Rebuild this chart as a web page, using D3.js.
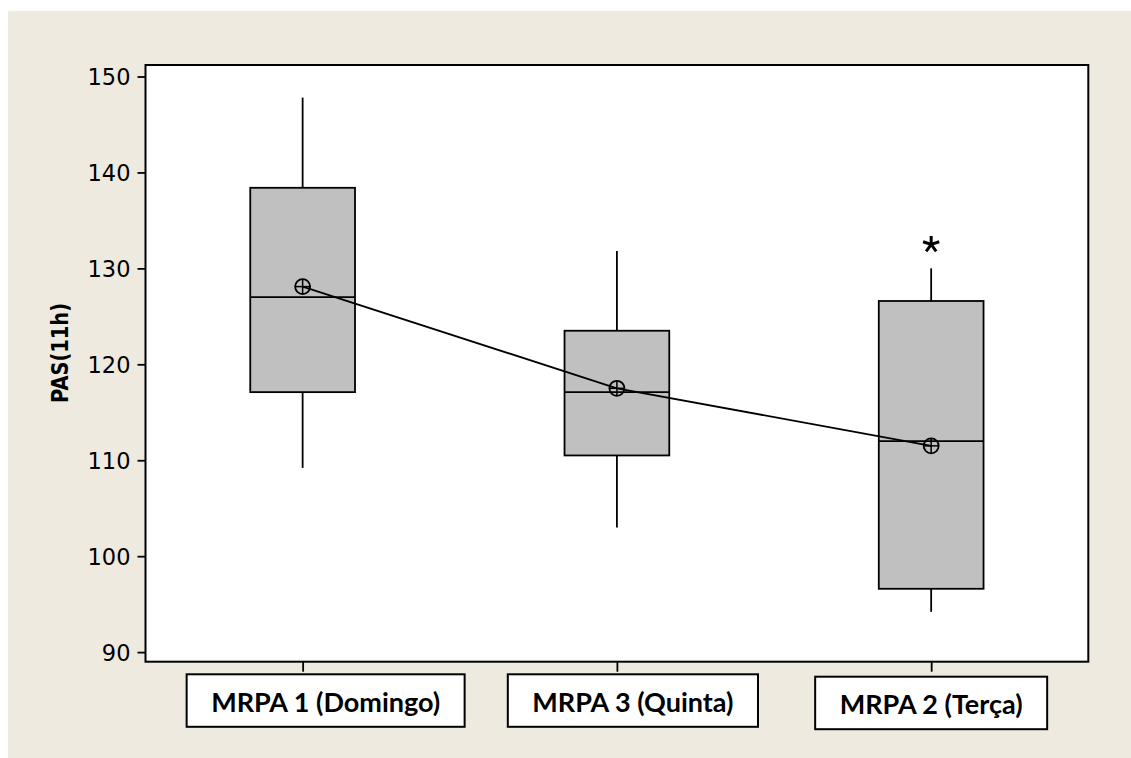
<!DOCTYPE html>
<html>
<head>
<meta charset="utf-8">
<script src="https://cdn.jsdelivr.net/npm/d3@7"></script>
<style>
  html, body { margin: 0; padding: 0; background: #ffffff; }
  svg { display: block; }
</style>
</head>
<body>
<svg id="chart" width="1131" height="758"></svg>
<script>
// Systolic pressure at 11h per home-monitoring day
const categories   = ["MRPA 1 (Domingo)", "MRPA 3 (Quinta)", "MRPA 2 (Terça)"];
const whiskerLow   = [109.2, 103.0, 94.2];
const q1           = [117.1, 110.5, 96.6];
const median       = [127.0, 117.1, 112.0];
const q3           = [138.4, 123.5, 126.6];
const whiskerHigh  = [147.8, 131.8, 130.0];
const means        = [128.1, 117.5, 111.5];
const outliers     = [[], [], [132.5]];
const yTicks       = [90, 100, 110, 120, 130, 140, 150];
const yTitle       = "PAS(11h)";

const svg = d3.select("#chart");
const lw = 1.8;

// Beige page panel
svg.append("rect")
  .attr("x", 8).attr("y", 11)
  .attr("width", 1131 - 8).attr("height", 758 - 11)
  .attr("fill", "#eeeae0");

const plot = { left: 145.5, right: 1088.3, top: 65, bottom: 661.7 };

const y = d3.scaleLinear()
  .domain([89.0, 151.2])
  .range([plot.bottom, plot.top]);

const x = d3.scalePoint()
  .domain(categories)
  .range([plot.left, plot.right])
  .padding(0.5);

const boxW = x.step() / 3;

// Data region
svg.append("rect")
  .attr("x", plot.left).attr("y", plot.top)
  .attr("width", plot.right - plot.left)
  .attr("height", plot.bottom - plot.top)
  .attr("fill", "#ffffff");

// Y axis
const yAxis = d3.axisLeft(y).tickValues(yTicks).tickSize(8).tickPadding(7);
const gy = svg.append("g")
  .attr("transform", `translate(${plot.left},0)`)
  .call(yAxis);
gy.select(".domain").remove();
gy.selectAll(".tick line").attr("stroke", "#000").attr("stroke-width", lw);
gy.selectAll(".tick text")
  .attr("font-family", "DejaVu Sans, Verdana, sans-serif")
  .attr("font-size", 22.5)
  .attr("fill", "#000")
  .attr("dy", "0.36em");

// X axis ticks
const xAxis = d3.axisBottom(x).tickSize(10).tickFormat("");
const gx = svg.append("g")
  .attr("transform", `translate(0,${plot.bottom})`)
  .call(xAxis);
gx.select(".domain").remove();
gx.selectAll(".tick line").attr("stroke", "#000").attr("stroke-width", lw);

// Y axis title
svg.append("text")
  .attr("transform", `translate(68,353) rotate(-90)`)
  .attr("text-anchor", "middle")
  .attr("font-family", "DejaVu Sans, Verdana, sans-serif")
  .attr("font-weight", "bold")
  .attr("font-size", 23.5)
  .attr("textLength", 100)
  .attr("lengthAdjust", "spacingAndGlyphs")
  .attr("fill", "#000")
  .text(yTitle);

// Box plots
const rows = categories.map((c, i) => ({
  c, lo: whiskerLow[i], q1: q1[i], med: median[i], q3: q3[i], hi: whiskerHigh[i],
  mean: means[i], out: outliers[i]
}));

const g = svg.append("g");

g.selectAll("line.whisker-hi").data(rows).join("line")
  .attr("x1", d => x(d.c)).attr("x2", d => x(d.c))
  .attr("y1", d => y(d.q3)).attr("y2", d => y(d.hi))
  .attr("stroke", "#000").attr("stroke-width", lw);

g.selectAll("line.whisker-lo").data(rows).join("line")
  .attr("x1", d => x(d.c)).attr("x2", d => x(d.c))
  .attr("y1", d => y(d.q1)).attr("y2", d => y(d.lo))
  .attr("stroke", "#000").attr("stroke-width", lw);

g.selectAll("rect.box").data(rows).join("rect")
  .attr("x", d => x(d.c) - boxW / 2)
  .attr("y", d => y(d.q3))
  .attr("width", boxW)
  .attr("height", d => y(d.q1) - y(d.q3))
  .attr("fill", "#c0c0c0")
  .attr("stroke", "#000").attr("stroke-width", lw);

g.selectAll("line.median").data(rows).join("line")
  .attr("x1", d => x(d.c) - boxW / 2).attr("x2", d => x(d.c) + boxW / 2)
  .attr("y1", d => y(d.med)).attr("y2", d => y(d.med))
  .attr("stroke", "#000").attr("stroke-width", lw);

// Outliers as five-armed asterisks
const starArm = 8.5;
const starPath = d3.range(5).map(k => {
  const a = k * 2 * Math.PI / 5;
  return `M0,0L${(starArm * Math.sin(a)).toFixed(2)},${(-starArm * Math.cos(a)).toFixed(2)}`;
}).join("");
rows.forEach(d => {
  d.out.forEach(v => {
    g.append("path")
      .attr("d", starPath)
      .attr("transform", `translate(${x(d.c)},${y(v)})`)
      .attr("fill", "none")
      .attr("stroke", "#000")
      .attr("stroke-width", 3);
  });
});

// Mean connect line
g.append("path")
  .datum(rows)
  .attr("d", d3.line().x(d => x(d.c)).y(d => y(d.mean)))
  .attr("fill", "none")
  .attr("stroke", "#000")
  .attr("stroke-width", lw);

// Mean symbols: circle with cross
const r = 7.5;
const meanG = g.selectAll("g.mean").data(rows).join("g")
  .attr("transform", d => `translate(${x(d.c)},${y(d.mean)})`);
meanG.append("circle").attr("r", r)
  .attr("fill", "none").attr("stroke", "#000").attr("stroke-width", lw);
meanG.append("line").attr("x1", -r).attr("x2", r).attr("y1", 0).attr("y2", 0)
  .attr("stroke", "#000").attr("stroke-width", 1.5);
meanG.append("line").attr("x1", 0).attr("x2", 0).attr("y1", -r).attr("y2", r)
  .attr("stroke", "#000").attr("stroke-width", 1.5);

// Frame
svg.append("rect")
  .attr("x", plot.left).attr("y", plot.top)
  .attr("width", plot.right - plot.left)
  .attr("height", plot.bottom - plot.top)
  .attr("fill", "none")
  .attr("stroke", "#000").attr("stroke-width", 2);

// Category label boxes
const labelShift = [23, 16, 0];
const labelTop = [674.3, 674.3, 676.7];
const labelH = 52.5;
const padX = 24.5;
categories.forEach((c, i) => {
  const cx = x(c) + labelShift[i];
  const lg = svg.append("g");
  const rect = lg.append("rect");
  const t = lg.append("text")
    .attr("x", cx)
    .attr("y", labelTop[i] + labelH / 2 + 11)
    .attr("text-anchor", "middle")
    .attr("font-family", "Lato, 'Open Sans', sans-serif")
    .attr("font-weight", "bold")
    .attr("font-size", 27)
    .attr("fill", "#000")
    .text(c);
  const w = t.node().getComputedTextLength();
  rect.attr("x", cx - w / 2 - padX)
    .attr("y", labelTop[i])
    .attr("width", w + 2 * padX)
    .attr("height", labelH)
    .attr("fill", "#ffffff")
    .attr("stroke", "#000")
    .attr("stroke-width", 2);
});
</script>
</body>
</html>
